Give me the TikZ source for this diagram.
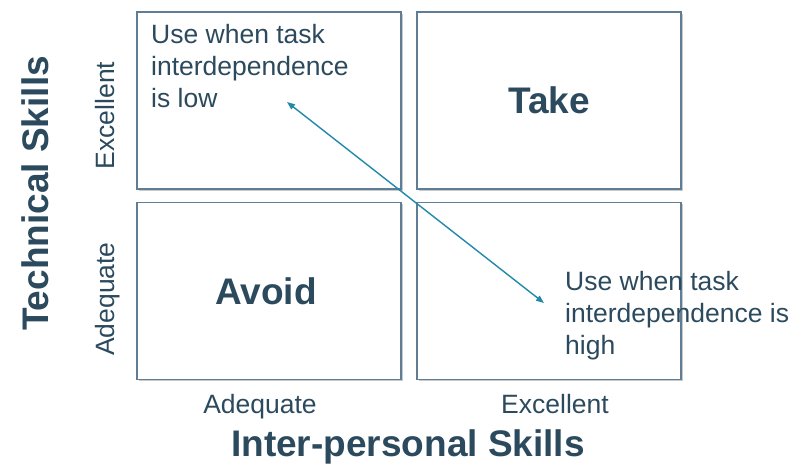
\documentclass[tikz,border=0pt]{standalone}
\usepackage{fontspec}
\setmainfont{Liberation Sans}
\usetikzlibrary{arrows.meta,shadows}

\definecolor{inkslate}{HTML}{2C4A5E}
\definecolor{frameblue}{HTML}{5F7D95}
\definecolor{arrowteal}{HTML}{2389AB}

\tikzset{
   cell/.style={draw=frameblue, line width=1.2pt, fill=white, minimum width=264pt, minimum height=177pt, inner sep=0pt,
      drop shadow={shadow xshift=1.5pt, shadow yshift=-1.5pt, opacity=0.35, fill=black!60}},
   note/.style={inkslate, align=left, inner sep=0pt, font=\fontsize{26.5}{32}\selectfont},
   big/.style={inkslate, inner sep=0pt, font=\fontsize{37}{40}\selectfont\bfseries},
   tick/.style={inkslate, inner sep=0pt, font=\fontsize{26.5}{30}\selectfont}
}

\begin{document}
\begin{tikzpicture}[x=1pt, y=-1pt]
   \useasboundingbox (0, 0) rectangle (801, 472);

   \node[cell] (tl) at (269, 100.5) {};
   \node[cell] (tr) at (549, 100.5) {};
   \node[cell] (bl) at (269, 291) {};
   \node[cell] (br) at (549, 291) {};

   \node[note, anchor=base west] (low) at (151, 107) {Use when task\\interdependence\\is low};
   \node[note, anchor=base west] (high) at (565, 354) {Use when task\\interdependence is\\high};
   \node[big] (take) at (tr) {Take};
   \node[big] (avoid) at ([xshift=-3pt]bl.center) {Avoid};

   \coordinate (lowtip) at (287, 102);
   \coordinate (hightip) at (544, 303);
   \draw[arrowteal, line width=1.4pt, {Triangle[length=8pt,width=6pt]}-{Triangle[length=8pt,width=6pt]}] (lowtip) -- (hightip);

   \node[tick, rotate=90, anchor=base] (yexc) at (114, 115.5) {Excellent};
   \node[tick, rotate=90, anchor=base] (yade) at (114, 299) {Adequate};
   \node[big, rotate=90, anchor=base] (ytitle) at (48, 193.5) {Technical Skills};

   \node[tick, anchor=base] (xade) at (260, 413) {Adequate};
   \node[tick, anchor=base] (xexc) at (555, 413) {Excellent};
   \node[big, anchor=base] (xtitle) at (408, 456) {Inter-personal Skills};
\end{tikzpicture}
\end{document}
